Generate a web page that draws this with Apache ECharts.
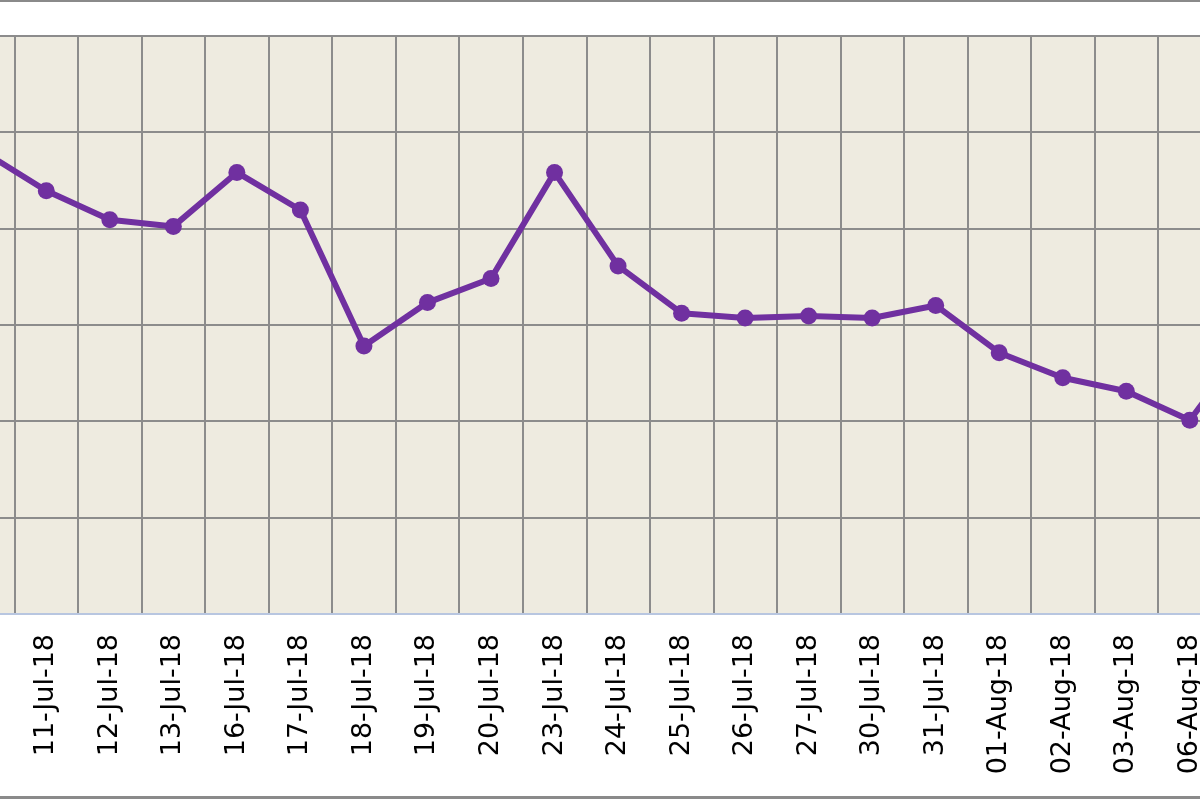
<!DOCTYPE html>
<html><head><meta charset="utf-8">
<script src="https://cdn.jsdelivr.net/npm/echarts@6/dist/echarts.min.js"></script>
<style>html,body{margin:0;padding:0;background:#fff;overflow:hidden;width:1200px;height:800px;position:relative}
#c{position:absolute;left:-49px;top:0;width:1400px;height:800px}
.b{position:absolute;left:0;width:1200px;background:#8a8a8a}</style>
</head><body><div id="c"></div>
<div class="b" style="top:0;height:2px"></div>
<div class="b" style="top:796px;height:3px"></div>
<script>
var categories = ['10-Jul-18','11-Jul-18','12-Jul-18','13-Jul-18','16-Jul-18','17-Jul-18','18-Jul-18','19-Jul-18','20-Jul-18','23-Jul-18','24-Jul-18','25-Jul-18','26-Jul-18','27-Jul-18','30-Jul-18','31-Jul-18','01-Aug-18','02-Aug-18','03-Aug-18','06-Aug-18','07-Aug-18'];
var values = [4.80,4.39,4.09,4.02,4.58,4.19,2.78,3.23,3.48,4.58,3.61,3.12,3.07,3.09,3.07,3.20,2.71,2.45,2.31,2.01,2.89];
var yMin = 0, yMax = 6, yStep = 1;

var chart = echarts.init(document.getElementById('c'), null, {renderer:'canvas'});
chart.setOption({
  animation:false,
  backgroundColor:'transparent',
  grid:{left:0, width:1334.1, top:35.5, bottom:186, show:true, backgroundColor:'#eeebe0', borderWidth:0},
  xAxis:{
    type:'category', data:categories, boundaryGap:true,
    axisLine:{show:true, lineStyle:{color:'#b8c6e0', width:2}},
    axisTick:{show:false},
    axisLabel:{rotate:90, interval:0, margin:20, color:'#000', fontFamily:'DejaVu Sans', fontSize:27},
    splitLine:{show:true, interval:0, lineStyle:{color:'#8c8c8c', width:2}}
  },
  yAxis:{
    type:'value', min:yMin, max:yMax, interval:yStep,
    axisLine:{show:false}, axisTick:{show:false}, axisLabel:{show:false},
    splitLine:{show:true, lineStyle:{color:'#8c8c8c', width:2}}
  },
  series:[{
    type:'line', data:values,
    lineStyle:{color:'#7030a0', width:6},
    itemStyle:{color:'#7030a0'},
    symbol:'circle', symbolSize:17, showAllSymbol:true
  }]
});
</script></body></html>
